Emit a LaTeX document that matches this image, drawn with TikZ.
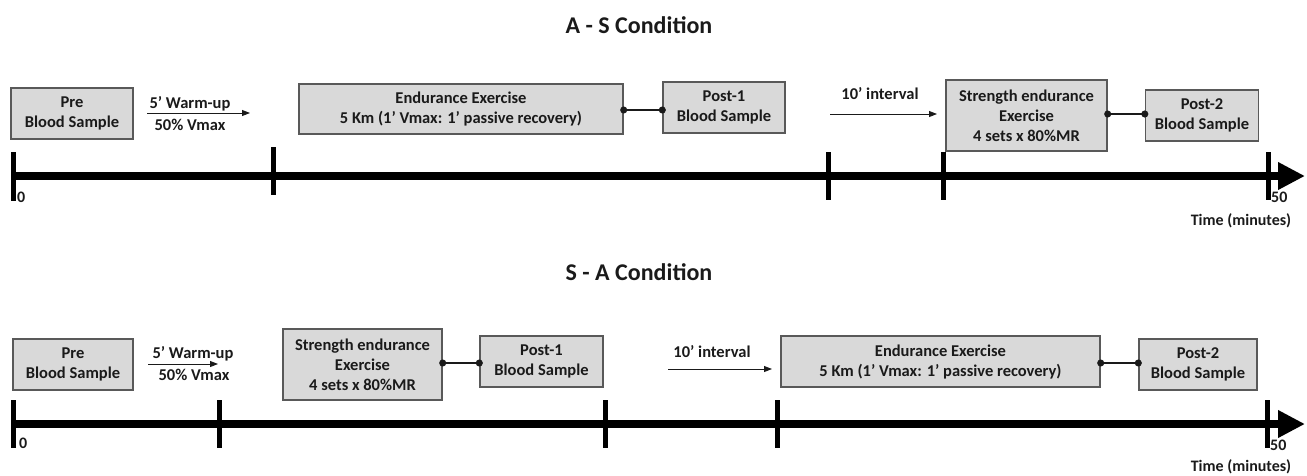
\documentclass[tikz,border=0pt]{standalone}
\usepackage{fontspec}
\setmainfont{Carlito}
\usetikzlibrary{arrows.meta}
\definecolor{boxfill}{HTML}{D9D9D9}
\definecolor{boxline}{HTML}{595959}
\definecolor{ink}{HTML}{1A1A1A}
\begin{document}
\begin{tikzpicture}[x=1pt,y=-1pt,
  every node/.style={text=ink,font=\bfseries\fontsize{16.5}{20}\selectfont,inner sep=0pt},
  box/.style={draw=boxline,fill=boxfill,line width=1.4pt,align=center},
  title/.style={font=\bfseries\fontsize{24}{29}\selectfont},
  lbl/.style={font=\bfseries\fontsize{16}{19}\selectfont},
  conn/.style={draw=ink,line width=1.3pt,{Circle[length=7pt]}-{Circle[length=7pt]},shorten <=-3.5pt,shorten >=-3.5pt},
  thinarrow/.style={draw=ink,line width=0.9pt,-{Triangle[length=8pt,width=6pt]}},
  axis/.style={draw=black,line width=8pt,line cap=butt,-{Triangle[length=27pt,width=26pt]}},
  tickmark/.style={draw=black,line width=5pt,line cap=butt}]
\useasboundingbox (0,0) rectangle (1307,475);

% ---------------- A - S Condition ----------------
\node[title] (tA) at (639,25) {A - S Condition};

\node[box,minimum width=122pt,minimum height=51pt] (preA) at (72,113.5) {Pre\\Blood Sample};
\node (wuA) at (190,104) {5’ Warm-up};
\node (vmA) at (190,125) {50\% Vmax};
\coordinate (wuAs) at (147,113);
\coordinate (wuAe) at (250,113);
\draw[thinarrow] (wuAs) -- (wuAe);

\node[box,minimum width=324pt,minimum height=50pt] (endA) at (461,109) {Endurance Exercise\\5 Km (1’ Vmax: 1’ passive recovery)};
\node[box,minimum width=122pt,minimum height=51pt] (p1A) at (724,107.5) {Post-1\\Blood Sample};
\draw[conn] (endA.east |- 0,110) -- (p1A.west |- 0,110);

\node (ivA) at (880,94) {10’ interval};
\coordinate (ivAs) at (830,114);
\coordinate (ivAe) at (937,114);
\draw[thinarrow] (ivAs) -- (ivAe);

\node[box,minimum width=161pt,minimum height=71pt] (strA) at (1026.5,115.5) {Strength endurance\\Exercise\\4 sets x 80\%MR};
\node[box,minimum width=113pt,minimum height=51pt] (p2A) at (1202,115.5) {Post-2\\Blood Sample};
\draw[conn] (strA.east |- 0,114) -- (p2A.west |- 0,114);

\coordinate (axAs) at (11,176);
\coordinate (axAe) at (1305,176);
\draw[axis] (axAs) -- (axAe);
\draw[tickmark] (13.5,152) -- (13.5,201);
\draw[tickmark] (273,147) -- (273,195);
\draw[tickmark] (828,152) -- (828,200);
\draw[tickmark] (943,152) -- (943,200);
\draw[tickmark] (1268,152) -- (1268,200);
\node[lbl,anchor=west] (zA) at (17,197) {0};
\node[lbl,anchor=west] (fA) at (1271,197) {50};
\node[lbl] (timeA) at (1241,221) {Time (minutes)};

% ---------------- S - A Condition ----------------
\node[title] (tB) at (639,272) {S - A Condition};

\node[box,minimum width=120pt,minimum height=51pt] (preB) at (73,364.5) {Pre\\Blood Sample};
\node (wuB) at (193,354) {5’ Warm-up};
\node (vmB) at (194,375) {50\% Vmax};
\coordinate (wuBs) at (148,364);
\coordinate (wuBe) at (218,364);
\draw[thinarrow] (wuBs) -- (wuBe);

\node[box,minimum width=159pt,minimum height=71pt] (strB) at (362.5,364.5) {Strength endurance\\Exercise\\4 sets x 80\%MR};
\node[box,minimum width=123pt,minimum height=51pt] (p1B) at (541.5,361.5) {Post-1\\Blood Sample};
\draw[conn] (strB.east |- 0,363) -- (p1B.west |- 0,363);

\node (ivB) at (712,352) {10’ interval};
\coordinate (ivBs) at (668,369);
\coordinate (ivBe) at (772,369);
\draw[thinarrow] (ivBs) -- (ivBe);

\node[box,minimum width=319pt,minimum height=51pt] (endB) at (940.5,361.5) {Endurance Exercise\\5 Km (1’ Vmax: 1’ passive recovery)};
\node[box,minimum width=118pt,minimum height=51pt] (p2B) at (1198,364.5) {Post-2\\Blood Sample};
\draw[conn] (endB.east |- 0,363) -- (p2B.west |- 0,363);

\coordinate (axBs) at (11,424);
\coordinate (axBe) at (1305,424);
\draw[axis] (axBs) -- (axBe);
\draw[tickmark] (13.5,400) -- (13.5,448);
\draw[tickmark] (219,400) -- (219,448);
\draw[tickmark] (605,400) -- (605,448);
\draw[tickmark] (777,400) -- (777,448);
\draw[tickmark] (1267,400) -- (1267,448);
\node[lbl,anchor=west] (zB) at (19,443) {0};
\node[lbl,anchor=west] (fB) at (1270,445) {50};
\node[lbl] (timeB) at (1241,467) {Time (minutes)};
\end{tikzpicture}
\end{document}
